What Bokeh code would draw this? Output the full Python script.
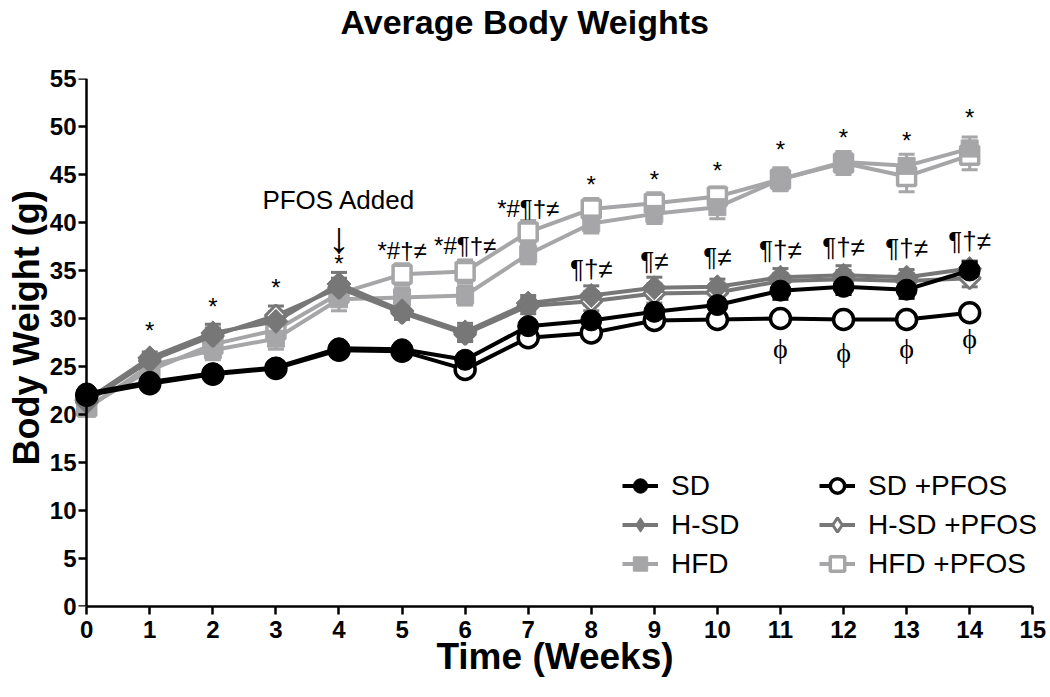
from bokeh.plotting import figure
from bokeh.models import (ColumnDataSource, Range1d, LinearAxis, FixedTicker, Whisker,
                          TeeHead, Legend, LegendItem, Label, Title)
from bokeh.core.properties import value
from bokeh.embed import file_html
from bokeh.resources import INLINE

# ---------------- data ----------------
weeks = list(range(15))
sd = [22.2, 23.4, 24.3, 24.9, 26.9, 26.8, 25.7, 29.2, 29.8, 30.7, 31.4, 32.9, 33.3, 33.0, 35.0]
sd_err = [0.4, 0.4, 0.4, 0.4, 0.4, 0.4, 0.4, 0.5, 0.5, 0.6, 0.6, 0.9, 0.8, 0.9, 0.9]
sd_pfos = [22.0, 23.2, 24.2, 24.8, 26.7, 26.6, 24.7, 28.0, 28.5, 29.8, 29.9, 30.0, 29.9, 29.9, 30.6]
sd_pfos_err = [0.4, 0.4, 0.4, 0.4, 0.4, 0.4, 0.5, 0.5, 0.5, 0.5, 0.5, 0.5, 0.5, 0.5, 0.7]
hsd = [21.5, 25.9, 28.5, 29.7, 33.6, 30.8, 28.6, 31.6, 32.4, 33.2, 33.3, 34.3, 34.5, 34.3, 35.2]
hsd_err = [0.5, 0.6, 0.9, 1.0, 1.2, 0.7, 0.9, 0.8, 1.0, 1.1, 0.8, 0.9, 1.0, 0.8, 0.8]
hsd_pfos = [21.3, 25.6, 28.2, 30.3, 33.2, 30.6, 28.4, 31.3, 31.8, 32.6, 32.7, 33.9, 34.1, 33.9, 34.2]
hsd_pfos_err = [0.5, 0.6, 0.8, 1.0, 1.0, 0.7, 0.8, 0.8, 1.0, 1.0, 0.9, 0.8, 0.9, 0.8, 0.9]
hfd = [20.6, 25.1, 26.7, 27.9, 32.0, 32.2, 32.4, 36.7, 39.9, 40.9, 41.6, 44.5, 46.3, 45.9, 47.7]
hfd_err = [0.5, 0.8, 1.0, 1.1, 1.2, 1.0, 1.0, 1.0, 1.0, 1.0, 1.2, 1.1, 1.0, 1.2, 1.2]
hfd_pfos = [20.8, 24.6, 27.3, 28.8, 32.6, 34.6, 34.9, 39.0, 41.4, 42.0, 42.7, 44.5, 46.2, 44.8, 47.0]
hfd_pfos_err = [0.5, 0.8, 0.9, 1.0, 1.0, 1.1, 1.2, 1.2, 1.1, 1.1, 1.0, 1.2, 1.2, 1.6, 1.5]

x_ticks = list(range(16))
y_ticks = list(range(0, 56, 5))

# significance annotations (week, label)
top_weeks = [1, 2, 3, 4, 5, 6, 7, 8, 9, 10, 11, 12, 13, 14]
top_labels = ["*", "*", "*", "*", "*#†≠", "*#¶†≠", "*#¶†≠", "*", "*", "*", "*", "*", "*", "*"]
mid_weeks = [8, 9, 10, 11, 12, 13, 14]
mid_labels = ["¶†≠", "¶≠", "¶≠", "¶†≠", "¶†≠", "¶†≠", "¶†≠"]
phi_weeks = [11, 12, 13, 14]
phi_labels = ["ϕ", "ϕ", "ϕ", "ϕ"]

# label placement (layout, in axis units)
top_pos = [28.7, 31.2, 33.2, 35.7, 37.1, 37.6, 41.5, 44.0, 44.5, 45.4, 47.6, 48.9, 48.5, 50.9]
mid_pos = [35.2, 36.0, 36.4, 37.1, 37.4, 37.3, 38.1]
phi_pos = [26.9, 26.5, 26.9, 27.9]

BLACK = "#000000"
DARK = "#777777"
LIGHT = "#a6a6a8"
FONT = "Liberation Sans"
TURN = 0.785398  # square turned 45 degrees -> diamond

p = figure(width=1049, height=696, output_backend="svg", toolbar_location=None,
           x_range=Range1d(-0.4, 15.25), y_range=Range1d(0, 55),
           x_axis_location=None, y_axis_location=None,
           min_border_left=61, min_border_right=1, min_border_top=78, min_border_bottom=90)
p.outline_line_color = None
p.xgrid.visible = False
p.ygrid.visible = False

# chart title (outermost above panel), pushed up by an invisible spacer title
p.title.text = "Average Body Weights"
p.title.text_font = FONT
p.title.text_font_size = "34px"
p.title.text_font_style = "bold"
p.title.text_color = "black"
p.title.align = "left"
p.title.offset = 279
p.title.standoff = 0
p.add_layout(Title(text=" ", text_font_size="1px", standoff=35), "above")

def style_axis(ax):
    ax.axis_line_width = 2.5
    ax.major_tick_line_width = 2.5
    ax.major_tick_out = 8
    ax.major_tick_in = 0
    ax.minor_tick_line_color = None
    ax.major_label_text_font = FONT
    ax.major_label_text_font_style = "bold"
    ax.major_label_text_font_size = "24px"
    ax.major_label_text_color = "black"
    ax.axis_label_text_font = FONT
    ax.axis_label_text_font_style = "bold"
    ax.axis_label_text_font_size = "37px"
    ax.axis_label_text_color = "black"

xax = LinearAxis(ticker=FixedTicker(ticks=x_ticks), bounds=(0, 15), axis_label="Time (Weeks)")
style_axis(xax)
xax.major_label_standoff = 6
xax.axis_label_standoff = -5
p.add_layout(xax, "below")

# y axis line + ticks drawn at x = 0
yline = LinearAxis(ticker=FixedTicker(ticks=y_ticks), bounds=(0, 55), fixed_location=0)
style_axis(yline)
yline.major_label_text_color = None
p.add_layout(yline, "left")

# y tick labels
ylab = LinearAxis(ticker=FixedTicker(ticks=y_ticks))
style_axis(ylab)
ylab.axis_line_color = None
ylab.major_tick_line_color = None
ylab.major_tick_out = 0
ylab.major_label_standoff = -15
p.add_layout(ylab, "left")

# y axis title
p.add_layout(Title(text="Body Weight (g)", text_font=FONT, text_font_size="36px",
                   text_font_style="bold", text_color="black", align="left",
                   offset=141, standoff=0), "left")

series = [
    ("HFD +PFOS", hfd_pfos, hfd_pfos_err, LIGHT, "square", "white", 18, 3.5, 0),
    ("HFD", hfd, hfd_err, LIGHT, "square", LIGHT, 17, 1, 0),
    ("H-SD +PFOS", hsd_pfos, hsd_pfos_err, DARK, "square", "white", 15, 3, TURN),
    ("H-SD", hsd, hsd_err, DARK, "square", DARK, 17, 1, TURN),
    ("SD +PFOS", sd_pfos, sd_pfos_err, BLACK, "circle", "white", 20, 3.5, 0),
    ("SD", sd, sd_err, BLACK, "circle", BLACK, 21, 1, 0),
]

items = {}
for name, ys, err, col, marker, fill, size, lw, ang in series:
    src = ColumnDataSource(dict(x=weeks, y=ys,
                                upper=[a + b for a, b in zip(ys, err)],
                                lower=[a - b for a, b in zip(ys, err)]))
    wh = Whisker(source=src, base="x", upper="upper", lower="lower",
                 line_color=col, line_width=3,
                 upper_head=TeeHead(size=16, line_color=col, line_width=3),
                 lower_head=TeeHead(size=16, line_color=col, line_width=3))
    p.add_layout(wh)
    lr = p.line("x", "y", source=src, line_color=col, line_width=4)
    swatch = None
    if ang:
        # the legend does not turn markers: a diamond glyph under the turned square
        swatch = p.scatter("x", "y", source=src, marker="diamond", size=size + 3,
                           fill_color=fill, line_color=col, line_width=lw)
    sr = p.scatter("x", "y", source=src, marker=marker, size=size, fill_color=fill,
                   line_color=col, line_width=lw, angle=ang)
    items[name] = LegendItem(label=name, renderers=[lr, swatch if swatch is not None else sr])

def make_legend(names, x):
    lg = Legend(items=[items[n] for n in names], location=(x, 23), orientation="vertical",
                border_line_color=None, background_fill_alpha=0, padding=0, margin=0,
                glyph_width=36, glyph_height=39, label_height=28, spacing=0,
                label_standoff=13, label_text_font=FONT, label_text_font_size="28px",
                label_text_color="black")
    p.add_layout(lg, "center")

make_legend(["SD", "H-SD", "HFD"], 561)
make_legend(["SD +PFOS", "H-SD +PFOS", "HFD +PFOS"], 758)

# annotations
p.text(x=top_weeks, y=top_pos, text=top_labels, text_font=value(FONT), text_font_size="24px",
       text_align="center", text_baseline="middle", text_color="black")
p.text(x=mid_weeks, y=mid_pos, text=mid_labels, text_font=value(FONT), text_font_size="26px",
       text_align="center", text_baseline="middle", text_color="black")
p.text(x=phi_weeks, y=phi_pos, text=phi_labels, text_font=value("Liberation Serif"),
       text_font_size="28px", text_align="center", text_baseline="middle", text_color="black")

p.add_layout(Label(x=4, y=42.3, text="PFOS Added", text_font=FONT, text_font_size="26px",
                   text_align="center", text_baseline="middle", text_color="black"))
p.add_layout(Label(x=4, y=38.4, text="↓", text_font=FONT, text_font_size="44px",
                   text_align="center", text_baseline="middle", text_color="black"))

open("out.html", "w").write(file_html(p, INLINE))
